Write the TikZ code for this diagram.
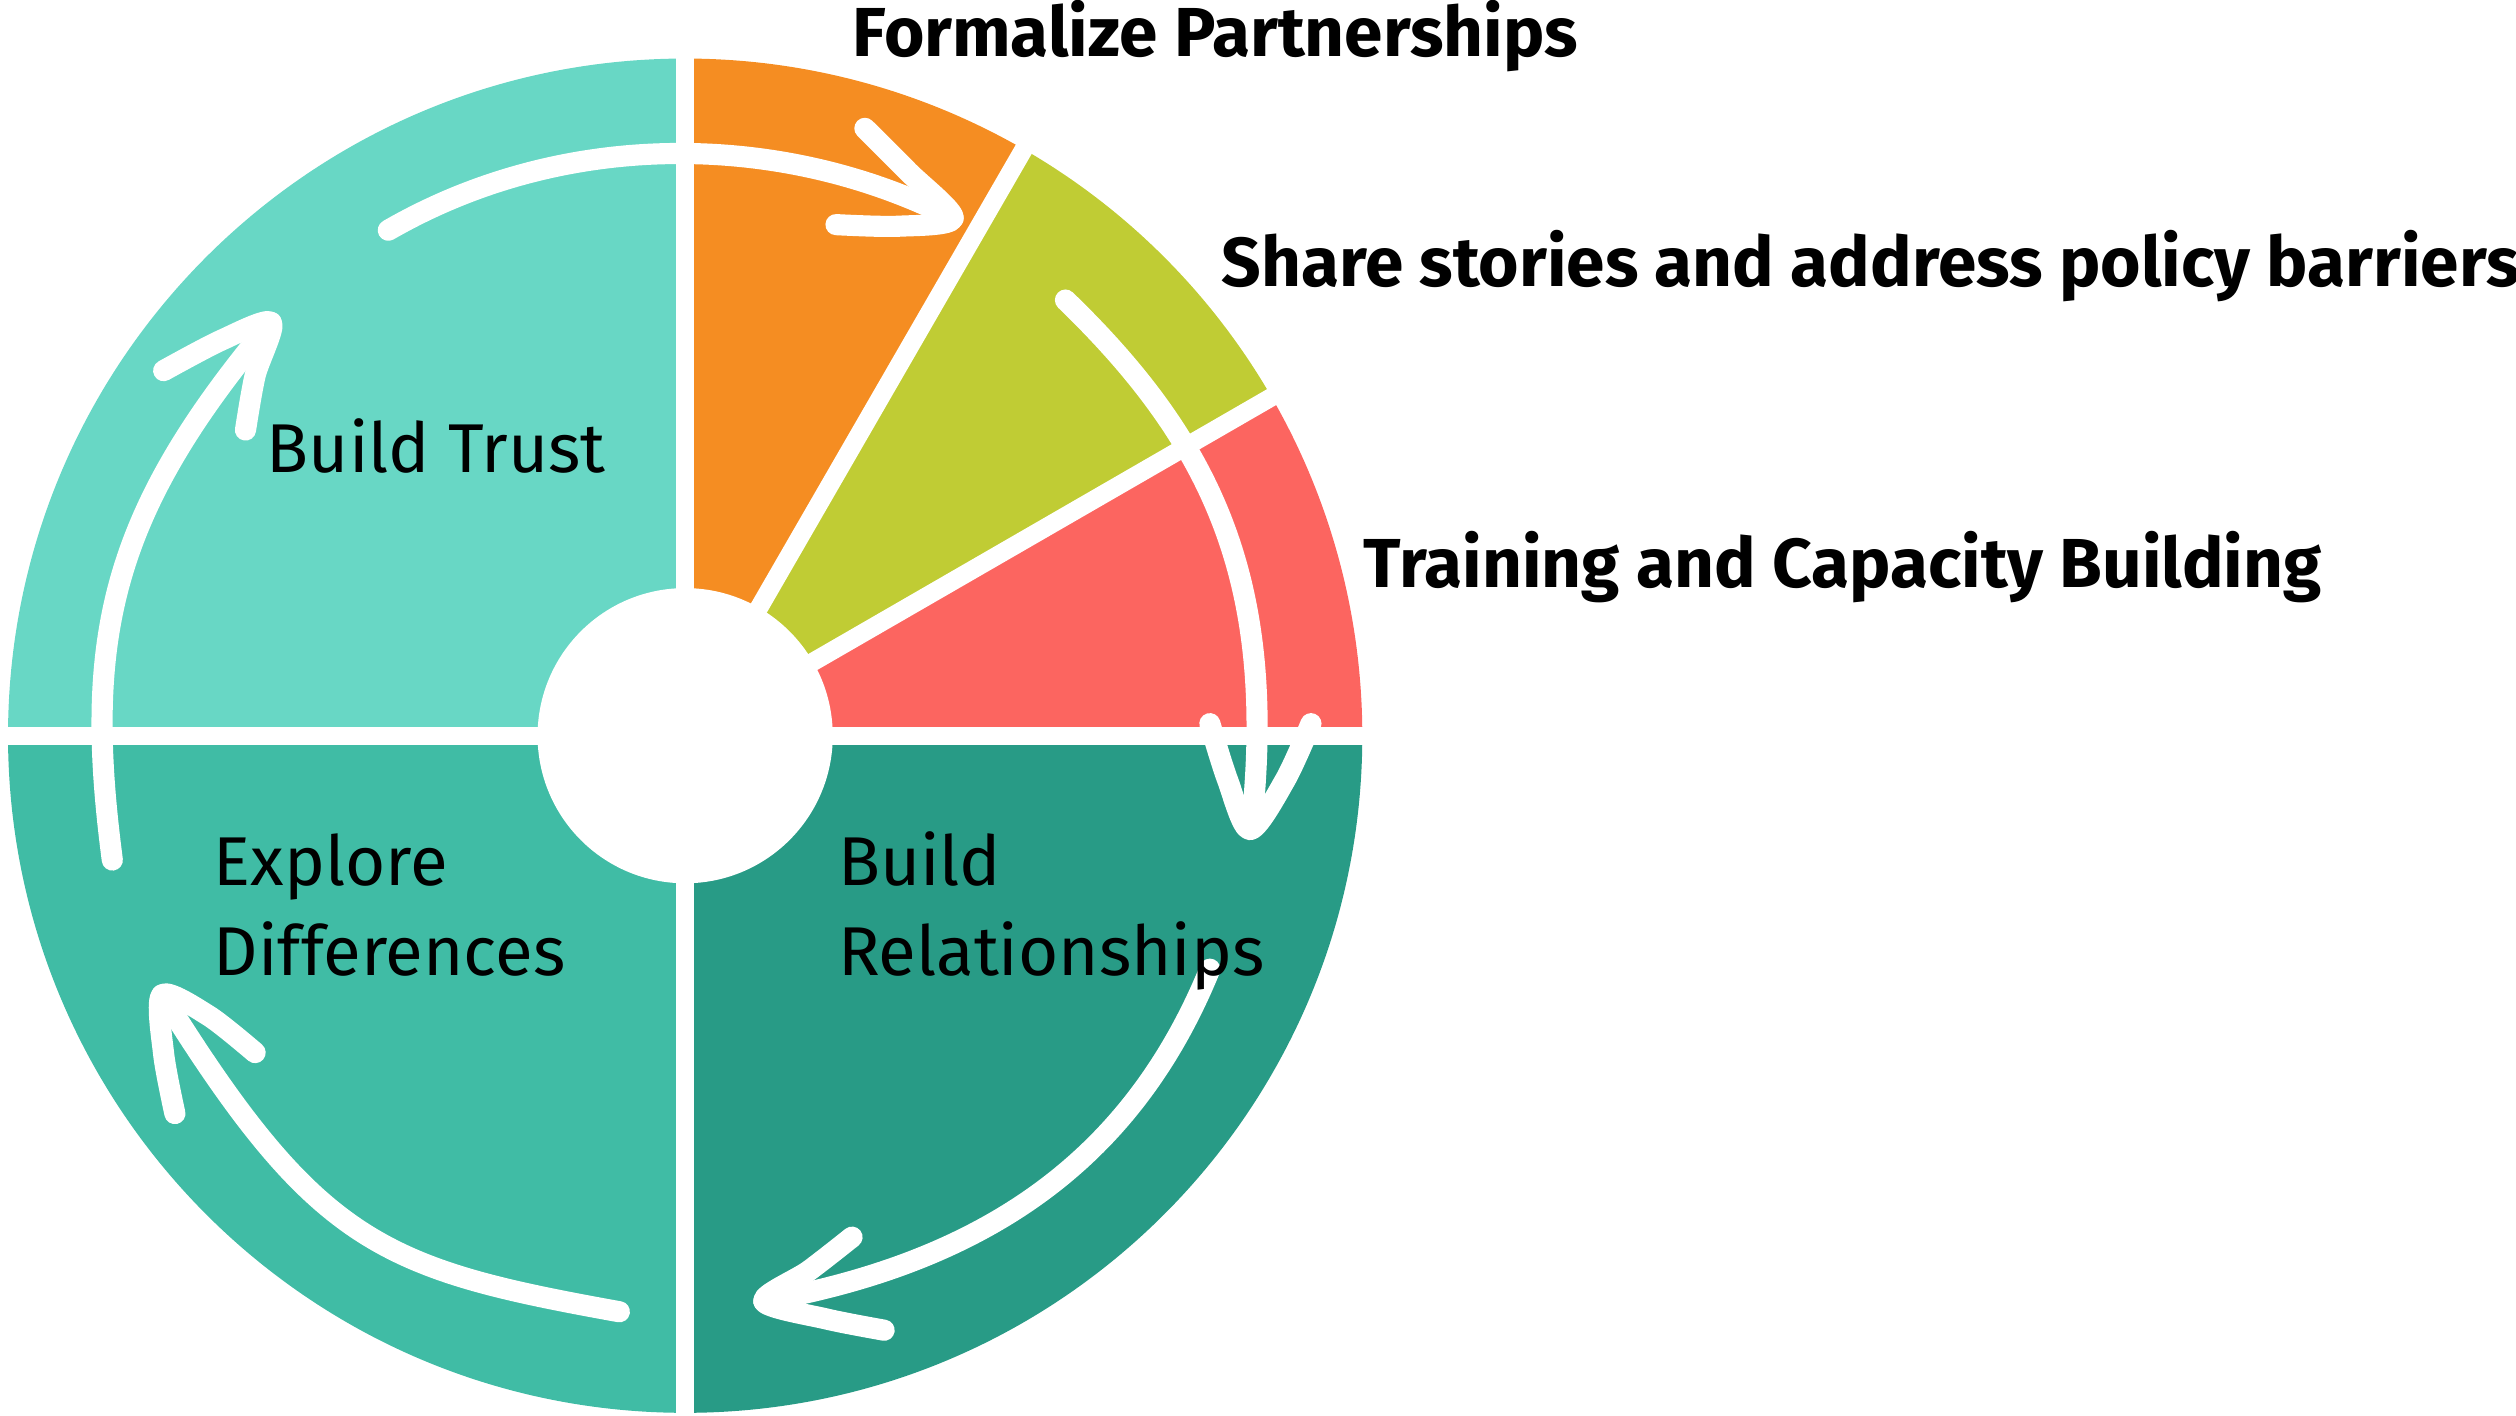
\documentclass[tikz,border=0pt]{standalone}
\usepackage{fontspec}
\setmainfont{Fira Sans}
\usetikzlibrary{positioning}
\definecolor{trustcolor}{RGB}{104, 215, 197}
\definecolor{explorecolor}{RGB}{64, 188, 165}
\definecolor{relatecolor}{RGB}{40, 155, 134}
\definecolor{formalcolor}{RGB}{245, 141, 34}
\definecolor{sharecolor}{RGB}{192, 204, 52}
\definecolor{traincolor}{RGB}{252, 101, 96}

\begin{document}
\begin{tikzpicture}[
    x=0.02cm, y=0.02cm,
    gap/.style={white, line width=6.5pt},
    loop/.style={white, line width=7.5pt, line cap=round, line join=round},
    phase/.style={anchor=base west, inner sep=0pt, align=left, font=\fontsize{24.5}{31.9}\selectfont},
    tag/.style={anchor=base west, inner sep=0pt, font=\fontsize{24.6}{29}\selectfont\bfseries}
]
    \useasboundingbox (0,0) rectangle (1568,882);
    \coordinate (c) at (427,423.5);

    % Wedges
    \fill[trustcolor] (c) -- ++(90:422) arc[start angle=90, end angle=180, radius=422] -- cycle;
    \fill[explorecolor] (c) -- ++(180:422) arc[start angle=180, end angle=270, radius=422] -- cycle;
    \fill[relatecolor] (c) -- ++(270:422) arc[start angle=270, end angle=360, radius=422] -- cycle;
    \fill[traincolor] (c) -- ++(0:422) arc[start angle=0, end angle=30, radius=422] -- cycle;
    \fill[sharecolor] (c) -- ++(30:422) arc[start angle=30, end angle=60, radius=422] -- cycle;
    \fill[formalcolor] (c) -- ++(60:422) arc[start angle=60, end angle=90, radius=422] -- cycle;

    % White gaps and hub
    \foreach \a in {0, 30, 60, 90, 180, 270}
        \draw[gap] (c) -- ++(\a:430);
    \node[circle, fill=white, inner sep=0pt, minimum size=3.68cm] (hub) at (c) {};

    % Cycle arrows
    \draw[loop] (242,738.5) .. controls (352,802) and (488,800) .. (594,746);
    \draw[loop] plot[smooth] coordinates {(539,802) (566,775) (594,746) (560,741) (521,742)};

    \draw[loop] (664,695) .. controls (757.5,604.6) and (795.7,517.2) .. (780,368);
    \draw[loop] plot[smooth] coordinates {(754,431) (765,396) (779,365) (801,396) (817,431)};

    \draw[loop] (754,278) .. controls (708.6,166.9) and (623.7,97.1) .. (476,71);
    \draw[loop] plot[smooth] coordinates {(531,111) (504,90) (476,71) (515,60) (551,53)};

    \draw[loop] (386,64.5) .. controls (239,91) and (198,106) .. (101,262);
    \draw[loop] plot[smooth] coordinates {(159,226) (130,249) (101,262) (102,225) (109,188)};

    \draw[loop] (70,346) .. controls (52,483.4) and (68,561) .. (169,681);
    \draw[loop] plot[smooth] coordinates {(102,651) (138,670) (169,681) (159,648) (153,614)};

    % Phase labels
    \node[phase] (trust) at (166,587.4) {Build Trust};
    \node[phase] (explore) at (133,274) {Explore\\Differences};
    \node[phase] (relate) at (522,274) {Build\\Relationships};

    % Outside labels
    \node[tag] (formal) at (531,847) {Formalize Partnerships};
    \node[tag] (share) at (761,703.7) {Share stories and address policy barriers};
    \node[tag] (train) at (849.5,515.6) {Training and Capacity Building};
\end{tikzpicture}
\end{document}
